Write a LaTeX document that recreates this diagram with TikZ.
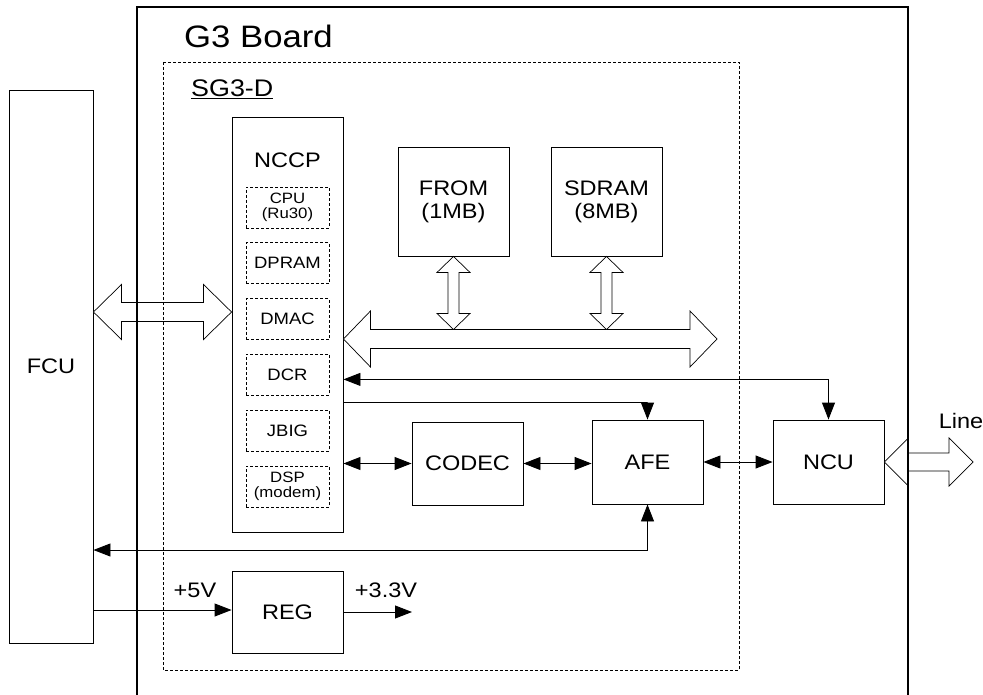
\documentclass[tikz,border=0pt]{standalone}
\usepackage{fontspec}
\setmainfont{Liberation Sans}[FakeStretch=1.12]
\usetikzlibrary{arrows.meta, positioning, calc}

% hollow double block arrows: from, to, shaft half width, head half width, head length
\newcommand{\hblock}[5]{%
  \draw[blockarrow] let \p1=(#1), \p2=(#2) in
    (\x1,\y1) -- (\x1+#5,\y1+#4) -- (\x1+#5,\y1+#3) -- (\x2-#5,\y1+#3) -- (\x2-#5,\y1+#4)
    -- (\x2,\y1) -- (\x2-#5,\y1-#4) -- (\x2-#5,\y1-#3) -- (\x1+#5,\y1-#3) -- (\x1+#5,\y1-#4) -- cycle;}
\newcommand{\vblock}[5]{%
  \draw[blockarrow] let \p1=(#1), \p2=(#2) in
    (\x1,\y1) -- (\x1+#4,\y1-#5) -- (\x1+#3,\y1-#5) -- (\x1+#3,\y2+#5) -- (\x1+#4,\y2+#5)
    -- (\x1,\y2) -- (\x1-#4,\y2+#5) -- (\x1-#3,\y2+#5) -- (\x1-#3,\y1-#5) -- (\x1-#4,\y1-#5) -- cycle;}

\begin{document}
\begin{tikzpicture}[
    x=1pt, y=-1pt,
    box/.style={rectangle, draw, line width=0.9pt, fill=white, minimum width=111pt, inner sep=0pt, align=center, font=\fontsize{21}{23}\selectfont},
    subbox/.style={rectangle, draw, line width=0.8pt, dash pattern=on 3pt off 2pt, minimum width=83pt, minimum height=41pt, inner sep=0pt, align=center, font=\fontsize{16.5}{16.5}\selectfont},
    tinytext/.style={font=\fontsize{15}{14.5}\selectfont},
    lbl/.style={inner sep=0pt, font=\fontsize{21}{23}\selectfont},
    blockarrow/.style={draw, line width=0.7pt, fill=white},
    feed/.style={-{Triangle[length=17pt, width=13pt]}, line width=0.9pt},
    link/.style={{Triangle[length=17pt, width=13pt]}-{Triangle[length=17pt, width=13pt]}, line width=0.9pt}
]
\useasboundingbox (0,0) rectangle (983,695);

% Host side
\node[box, minimum width=84pt, minimum height=553pt] (fcu) at (51,366.5) {FCU};

% Controller and its blocks
\node[box, minimum height=415pt] (nccp) at (287.5,324.5) {};
\node[lbl] (nccpname) at (287.5,160) {NCCP};
\node[subbox, tinytext] (cpu) at (287.5,207.5) {CPU\\(Ru30)};
\node[subbox, below=14pt of cpu] (dpram) {DPRAM};
\node[subbox, below=14pt of dpram] (dmac) {DMAC};
\node[subbox, below=14pt of dmac] (dcr) {DCR};
\node[subbox, below=14pt of dcr] (jbig) {JBIG};
\node[subbox, tinytext, below=14pt of jbig] (dsp) {DSP\\(modem)};

% Memories
\node[box, minimum height=109pt] (from) at (453.5,201.5) {FROM\\(1MB)};
\node[box, minimum height=109pt] (sdram) at (606.5,201.5) {SDRAM\\(8MB)};

% Signal path
\node[box, minimum height=83pt] (codec) at (467.5,463.5) {CODEC};
\node[box, minimum height=84pt] (afe) at (647.5,462) {AFE};
\node[box, minimum height=84pt] (ncu) at (828.5,462) {NCU};
\node[box, minimum height=82pt] (reg) at (287.5,612) {REG};

% Block arrows
\coordinate (hostlink) at (0,312);
\coordinate (busend) at (717,339);
\coordinate (lineend) at (973,462);
\hblock{fcu.east |- hostlink}{nccp.west |- hostlink}{9.5pt}{27.5pt}{28pt}
\hblock{nccp.east |- busend}{busend}{9.5pt}{28pt}{27pt}
\vblock{from.south}{$(from.south |- busend)+(0,-9.5)$}{5.5pt}{16.5pt}{16pt}
\vblock{sdram.south}{$(sdram.south |- busend)+(0,-9.5)$}{5.5pt}{16.5pt}{16pt}
\hblock{ncu.east}{lineend}{9pt}{24pt}{24pt}
\node[lbl] (linename) at (961,421) {Line};

% Control and data lines
\coordinate (afetap) at ($(dcr.south)!0.5!(jbig.north)$);
\draw[link] ([yshift=-4.5pt]dcr.east -| nccp.east) -| (ncu.north);
\draw[feed] (afetap -| nccp.east) -| (afe.north);
\draw[link] (codec.west -| nccp.east) -- (codec.west);
\draw[link] (codec.east) -- (afe.west |- codec.east);
\draw[link] (afe.east) -- (ncu.west);
\draw[link] (afe.south) |- (fcu.east |- 0,550);

% Power
\coordinate (vout) at (412,612);
\draw[feed] (fcu.east |- 0,610) -- (reg.west |- 0,610);
\draw[feed] (reg.east) -- (vout);
\node[lbl] (vin) at (195,590) {+5V};
\node[lbl] (vreg) at (386,590) {+3.3V};

% Frames
\draw[line width=0.6pt, dash pattern=on 3pt off 2pt] (163,62) rectangle (739,670);
\draw[line width=1.8pt] (137,700) -- (137,7) -- (908,7) -- (908,700);
\node[lbl, anchor=west, font=\fontsize{31}{33}\selectfont] (boardname) at (184,36) {G3 Board};
\node[lbl, anchor=west, font=\fontsize{24}{26}\selectfont] (chipname) at (191,89) {\underline{SG3-D}};

\end{tikzpicture}
\end{document}
